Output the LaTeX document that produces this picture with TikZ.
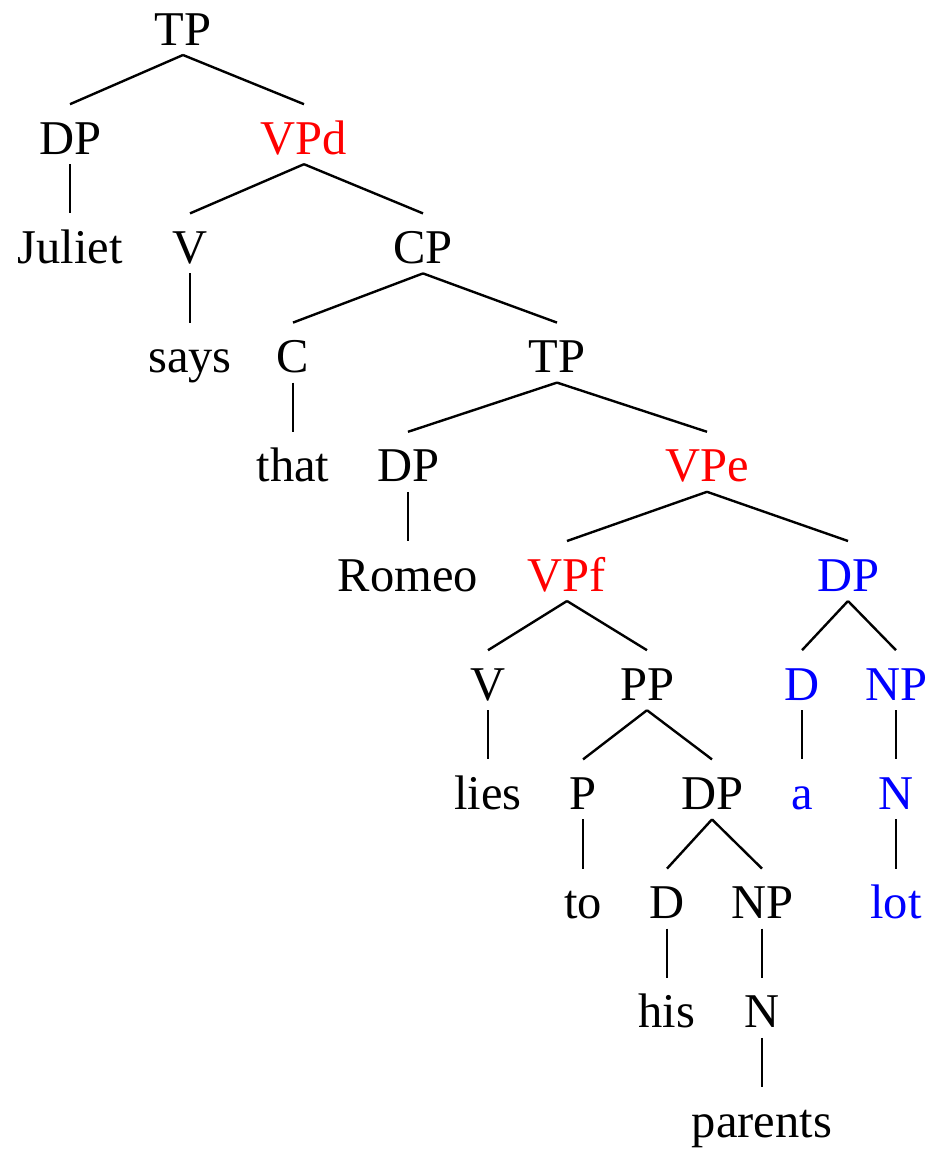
\documentclass[tikz,border=0pt]{standalone}
\usepackage{fontspec}
\setmainfont{Liberation Serif}
\begin{document}
\begin{tikzpicture}[x=1pt,y=1pt,
  lab/.style={inner sep=0pt,outer sep=0pt,text height=50pt,text depth=10pt,anchor=base,font=\fontsize{48.5}{58}\selectfont},
  redlab/.style={lab,text={rgb,255:red,255;green,0;blue,0}},
  bluelab/.style={lab,text={rgb,255:red,0;green,0;blue,255}},
  edge/.style={line width=2.4pt}]
\useasboundingbox (0,0) rectangle (942,-1151);
% rows (baselines)
\def\ra{-45}\def\rb{-154.2}\def\rc{-263.4}\def\rd{-372.6}\def\re{-481.8}
\def\rf{-591}\def\rg{-700.2}\def\rh{-809.4}\def\ri{-918.6}\def\rj{-1027.8}\def\rk{-1137}
\node[lab] (tp1) at (183,\ra) {TP};
\node[lab] (dp1) at (70,\rb) {DP};
\node[redlab] (vpd) at (304,\rb) {VPd};
\node[lab] (juliet) at (70,\rc) {Juliet};
\node[lab] (v1) at (190,\rc) {V};
\node[lab] (cp) at (423,\rc) {CP};
\node[lab] (says) at (190,\rd) {says};
\node[lab] (c) at (293,\rd) {C};
\node[lab] (tp2) at (557,\rd) {TP};
\node[lab] (that) at (293,\re) {that};
\node[lab] (dp2) at (408,\re) {DP};
\node[redlab] (vpe) at (707,\re) {VPe};
\node[lab] (romeo) at (408,\rf) {Romeo};
\node[redlab] (vpf) at (567,\rf) {VPf};
\node[bluelab] (dp3) at (848,\rf) {DP};
\node[lab] (v2) at (488,\rg) {V};
\node[lab] (pp) at (647,\rg) {PP};
\node[bluelab] (d1) at (802,\rg) {D};
\node[bluelab] (np1) at (896,\rg) {NP};
\node[lab] (lies) at (488,\rh) {lies};
\node[lab] (p) at (583,\rh) {P};
\node[lab] (dp4) at (712,\rh) {DP};
\node[bluelab] (a) at (802,\rh) {a};
\node[bluelab] (n1) at (896,\rh) {N};
\node[lab] (to) at (583,\ri) {to};
\node[lab] (d2) at (667,\ri) {D};
\node[lab] (np2) at (762,\ri) {NP};
\node[bluelab] (lot) at (896,\ri) {lot};
\node[lab] (his) at (667,\rj) {his};
\node[lab] (n2) at (762,\rj) {N};
\node[lab] (parents) at (762,\rk) {parents};
\foreach \u/\v in {tp1/dp1,tp1/vpd,dp1/juliet,vpd/v1,vpd/cp,v1/says,cp/c,cp/tp2,
  c/that,tp2/dp2,tp2/vpe,dp2/romeo,vpe/vpf,vpe/dp3,vpf/v2,vpf/pp,dp3/d1,dp3/np1,
  v2/lies,pp/p,pp/dp4,d1/a,np1/n1,p/to,dp4/d2,dp4/np2,n1/lot,d2/his,np2/n2,n2/parents}
  \draw[edge] (\u.south) -- (\v.north);
\end{tikzpicture}
\end{document}
